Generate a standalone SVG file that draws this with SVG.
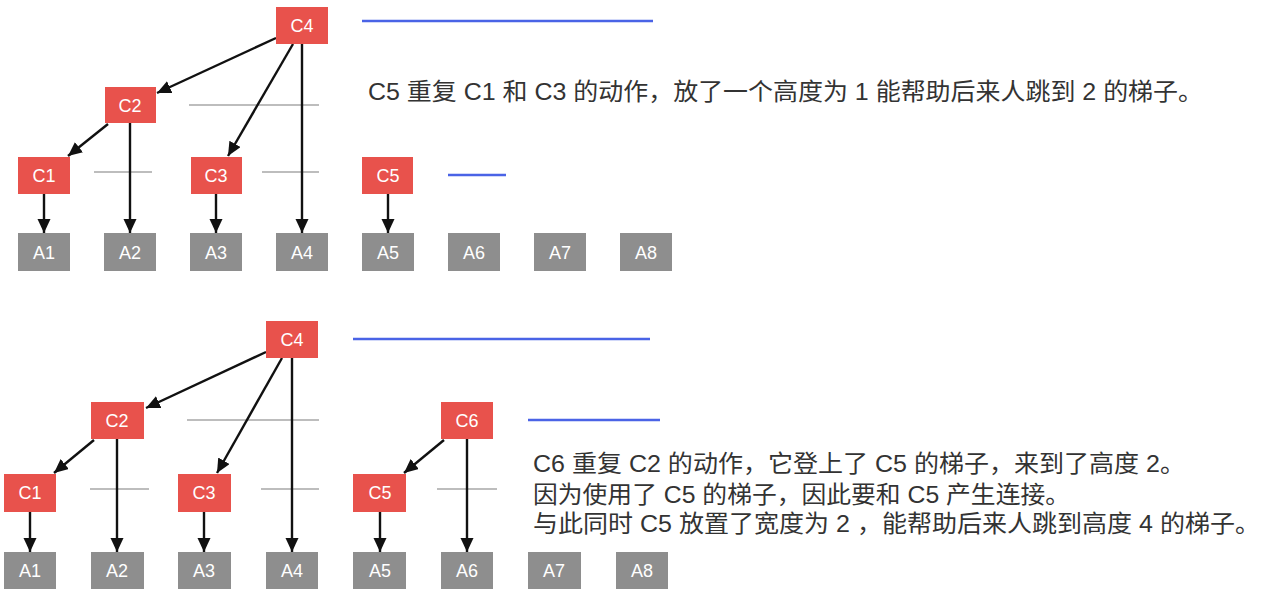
<svg xmlns="http://www.w3.org/2000/svg" width="1264" height="602" viewBox="0 0 1264 602">
<style>
.c rect{fill:#E8524C}
.a rect{fill:#8E8E8E}
.c text,.a text{fill:#fff;font-family:"Liberation Sans",Arial,sans-serif;font-size:18px;text-anchor:middle}
.e{stroke:#111;stroke-width:2.4;fill:none;marker-end:url(#ah)}
.g{stroke:#BDBDBD;stroke-width:2}
.b{stroke:#4A63E6;stroke-width:2.5}
.t{fill:#333;font-family:"Liberation Sans","Noto Sans CJK SC",sans-serif;font-size:23.5px}
</style>
<defs>
<marker id="ah" markerUnits="userSpaceOnUse" markerWidth="16" markerHeight="14" refX="14" refY="6.5" orient="auto">
<path d="M0,0 L14,6.5 L0,13 Z" fill="#111"/>
</marker>
</defs>
<rect width="1264" height="602" fill="#fff"/>
<g id="guides">
<line class="g" x1="189" y1="105" x2="319" y2="105"/>
<line class="g" x1="94" y1="172" x2="152" y2="172"/>
<line class="g" x1="262" y1="172" x2="319" y2="172"/>
<line class="b" x1="362" y1="21" x2="653" y2="21"/>
<line class="b" x1="448" y1="175" x2="506" y2="175"/>
<line class="g" x1="187" y1="420" x2="319" y2="420"/>
<line class="g" x1="90" y1="489" x2="149" y2="489"/>
<line class="g" x1="261" y1="489" x2="319" y2="489"/>
<line class="g" x1="437" y1="489" x2="497" y2="489"/>
<line class="b" x1="353" y1="339" x2="650" y2="339"/>
<line class="b" x1="528" y1="420" x2="660" y2="420"/>
</g>
<g id="connectors">
<line class="e" x1="44" y1="194" x2="44" y2="233"/>
<line class="e" x1="130" y1="123" x2="130" y2="233"/>
<line class="e" x1="216" y1="194" x2="216" y2="233"/>
<line class="e" x1="302" y1="44" x2="302" y2="233"/>
<line class="e" x1="388" y1="194" x2="388" y2="233"/>
<line class="e" x1="276" y1="38" x2="157" y2="93"/>
<line class="e" x1="108" y1="124" x2="68" y2="156"/>
<line class="e" x1="293" y1="44" x2="228" y2="156"/>
<line class="e" x1="30" y1="512" x2="30" y2="552"/>
<line class="e" x1="117" y1="439" x2="117" y2="552"/>
<line class="e" x1="204" y1="512" x2="204" y2="552"/>
<line class="e" x1="292" y1="358" x2="292" y2="552"/>
<line class="e" x1="380" y1="512" x2="380" y2="552"/>
<line class="e" x1="467" y1="439" x2="467" y2="552"/>
<line class="e" x1="266" y1="352" x2="146" y2="408"/>
<line class="e" x1="94" y1="440" x2="54" y2="473"/>
<line class="e" x1="282" y1="358" x2="217" y2="473"/>
<line class="e" x1="444" y1="440" x2="404" y2="473"/>
</g>
<g id="top-C4" class="c"><rect x="276" y="7" width="52" height="37"/><text x="302" y="32">C4</text></g>
<g id="top-C2" class="c"><rect x="105" y="87" width="51" height="36"/><text x="130" y="112">C2</text></g>
<g id="top-C1" class="c"><rect x="18" y="157" width="52" height="37"/><text x="44" y="182">C1</text></g>
<g id="top-C3" class="c"><rect x="191" y="157" width="51" height="37"/><text x="216" y="182">C3</text></g>
<g id="top-C5" class="c"><rect x="362" y="157" width="51" height="37"/><text x="388" y="182">C5</text></g>
<g id="top-A1" class="a"><rect x="18" y="233" width="52" height="38"/><text x="44" y="259">A1</text></g>
<g id="top-A2" class="a"><rect x="104" y="233" width="52" height="38"/><text x="130" y="259">A2</text></g>
<g id="top-A3" class="a"><rect x="190" y="233" width="52" height="38"/><text x="216" y="259">A3</text></g>
<g id="top-A4" class="a"><rect x="276" y="233" width="52" height="38"/><text x="302" y="259">A4</text></g>
<g id="top-A5" class="a"><rect x="362" y="233" width="52" height="38"/><text x="388" y="259">A5</text></g>
<g id="top-A6" class="a"><rect x="448" y="233" width="52" height="38"/><text x="474" y="259">A6</text></g>
<g id="top-A7" class="a"><rect x="534" y="233" width="52" height="38"/><text x="560" y="259">A7</text></g>
<g id="top-A8" class="a"><rect x="620" y="233" width="52" height="38"/><text x="646" y="259">A8</text></g>
<g id="bot-C4" class="c"><rect x="266" y="321" width="52" height="37"/><text x="292" y="346">C4</text></g>
<g id="bot-C2" class="c"><rect x="91" y="402" width="53" height="37"/><text x="117" y="427">C2</text></g>
<g id="bot-C1" class="c"><rect x="4" y="474" width="52" height="38"/><text x="30" y="499">C1</text></g>
<g id="bot-C3" class="c"><rect x="178" y="474" width="53" height="38"/><text x="204" y="499">C3</text></g>
<g id="bot-C5" class="c"><rect x="353" y="474" width="53" height="38"/><text x="380" y="499">C5</text></g>
<g id="bot-C6" class="c"><rect x="441" y="402" width="52" height="37"/><text x="467" y="427">C6</text></g>
<g id="bot-A1" class="a"><rect x="4" y="552" width="52" height="37"/><text x="30" y="577">A1</text></g>
<g id="bot-A2" class="a"><rect x="91" y="552" width="53" height="37"/><text x="117" y="577">A2</text></g>
<g id="bot-A3" class="a"><rect x="178" y="552" width="53" height="37"/><text x="204" y="577">A3</text></g>
<g id="bot-A4" class="a"><rect x="266" y="552" width="52" height="37"/><text x="292" y="577">A4</text></g>
<g id="bot-A5" class="a"><rect x="353" y="552" width="53" height="37"/><text x="380" y="577">A5</text></g>
<g id="bot-A6" class="a"><rect x="441" y="552" width="52" height="37"/><text x="467" y="577">A6</text></g>
<g id="bot-A7" class="a"><rect x="528" y="552" width="53" height="37"/><text x="554" y="577">A7</text></g>
<g id="bot-A8" class="a"><rect x="616" y="552" width="52" height="37"/><text x="642" y="577">A8</text></g>
<g id="notes">
<text class="t" x="368" y="100" textLength="835" lengthAdjust="spacingAndGlyphs">C5 重复 C1 和 C3 的动作，放了一个高度为 1 能帮助后来人跳到 2 的梯子。</text>
<text class="t" x="533" y="472" textLength="652" lengthAdjust="spacingAndGlyphs">C6 重复 C2 的动作，它登上了 C5 的梯子，来到了高度 2。</text>
<text class="t" x="533" y="503" textLength="537" lengthAdjust="spacingAndGlyphs">因为使用了 C5 的梯子，因此要和 C5 产生连接。</text>
<text class="t" x="533" y="532" textLength="727" lengthAdjust="spacingAndGlyphs">与此同时 C5 放置了宽度为 2 ，能帮助后来人跳到高度 4 的梯子。</text>
</g>
</svg>
